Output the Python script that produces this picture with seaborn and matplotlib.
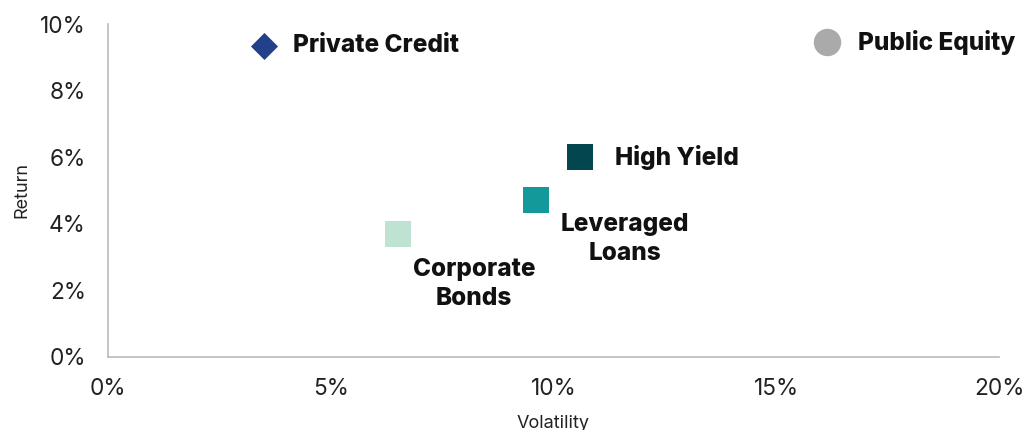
import matplotlib
matplotlib.use("Agg")
import matplotlib.pyplot as plt
import seaborn as sns
import pandas as pd

assets = ["Private Credit", "Public Equity", "High Yield", "Leveraged Loans", "Corporate Bonds"]
labels = ["Private Credit", "Public Equity", "High Yield", "Leveraged\nLoans", "Corporate\nBonds"]
volatility = [3.5, 16.15, 10.6, 9.6, 6.5]
returns = [9.35, 9.45, 6.0, 4.7, 3.7]
colors = ["#23418B", "#AAAAAA", "#034650", "#14999A", "#BEE3D3"]
markers = ["D", "o", "s", "s", "s"]
x_ticks = [0, 5, 10, 15, 20]
y_ticks = [0, 2, 4, 6, 8, 10]

df = pd.DataFrame({"asset": assets, "vol": volatility, "ret": returns})

sns.set_theme(style="white")
plt.rcParams["font.family"] = ["Inter", "DejaVu Sans"]

fig = plt.figure(figsize=(10.25, 4.3), dpi=100)
ax = fig.add_axes([0.1054, 0.170, 0.8692, 0.774])

sizes = {"D": 190, "o": 390, "s": 360}
for a, c, m in zip(assets, colors, markers):
    sub = df[df["asset"] == a]
    sns.scatterplot(data=sub, x="vol", y="ret", color=c, marker=m, s=sizes[m],
                    linewidth=0, ax=ax, legend=False, zorder=3)

# label offsets (points)
offs = [(21, 0, "left", "center"), (22, 0, "left", "center"), (25, 0, "left", "center"),
        (64, -28, "center", "center"), (55, -36, "center", "center")]
for lab, x, y, (dx, dy, ha, va) in zip(labels, volatility, returns, offs):
    ax.annotate(lab, (x, y), xytext=(dx, dy), textcoords="offset points",
                ha=ha, va=va, fontsize=17.5, fontweight=800, color="#111111",
                linespacing=1.32)

ax.set_xlim(0, 20)
ax.set_ylim(0, 10)
ax.set_xticks(x_ticks)
ax.set_yticks(y_ticks)
ax.set_xticklabels([f"{t}%" for t in x_ticks])
ax.set_yticklabels([f"{t}%" for t in y_ticks])
ax.tick_params(axis="both", labelsize=16.3, colors="#222222", length=0)
ax.tick_params(axis="x", pad=15)
ax.tick_params(axis="y", pad=16)
ax.set_xlabel("Volatility", fontsize=13, color="#222222", labelpad=11)
ax.set_ylabel("Return", fontsize=13, color="#222222", labelpad=7)

for s in ["top", "right"]:
    ax.spines[s].set_visible(False)
for s in ["left", "bottom"]:
    ax.spines[s].set_color("#BBBBBB")
    ax.spines[s].set_linewidth(1.2)

fig.savefig("out.png", dpi=100, facecolor="white")
